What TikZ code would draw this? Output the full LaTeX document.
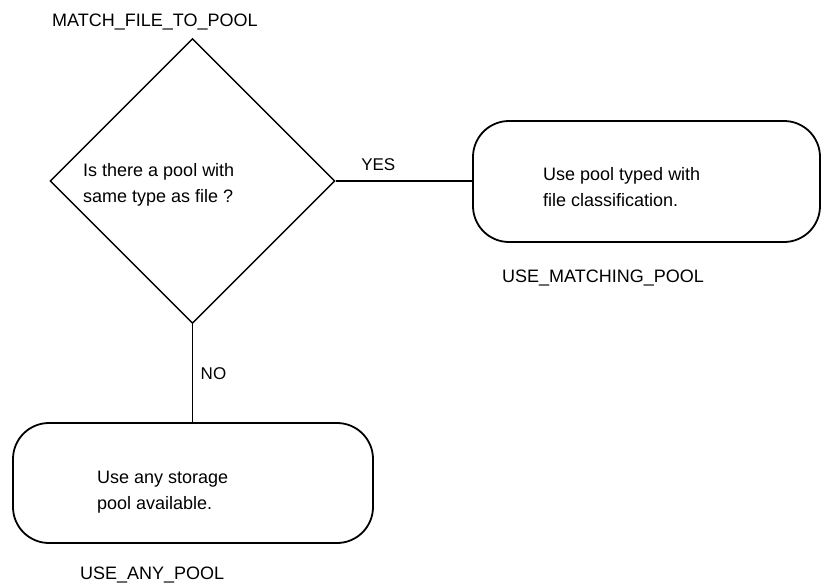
\documentclass[tikz,border=0pt]{standalone}
\usepackage{fontspec}
\setmainfont{Liberation Sans}
\usetikzlibrary{shapes.geometric}
\begin{document}
\begin{tikzpicture}[x=1pt,y=-1pt,
  every node/.style={font=\fontsize{18}{26}\selectfont},
  line/.style={line width=1.8pt},
  decision/.style={draw,line width=1.4pt,diamond,minimum width=285pt,minimum height=285pt,inner sep=0pt,aspect=1},
  action/.style={draw,line width=1.8pt,rounded corners=36pt,inner sep=0pt},
  label/.style={inner sep=0pt,anchor=west},
  body/.style={inner sep=0pt,anchor=west,align=left}]
  \useasboundingbox (0,0) rectangle (822,586);
  % decision diamond
  \node[decision] (dec) at (192.5,181) {};
  \node[body] (dectext) at (83,185) {Is there a pool with\\same type as file ?};
  \node[label] (dectitle) at (52,22) {MATCH\_FILE\_TO\_POOL};
  % outcome boxes
  \draw[action] (473,121) rectangle (820,242);
  \coordinate (matchin) at (473,181);
  \node[body] (matchtext) at (543,187) {Use pool typed with\\file classification.};
  \node[label] (matchtitle) at (502,278) {USE\_MATCHING\_POOL};
  \draw[action] (13,423) rectangle (373,543);
  \coordinate (anyin) at (192.5,423);
  \node[body] (anytext) at (97,492) {Use any storage\\pool available.};
  \node[label] (anytitle) at (80,575) {USE\_ANY\_POOL};
  % connectors
  \draw[line] (dec.east) -- (matchin) node[pos=0.31,above=6pt,font=\fontsize{17}{18}\selectfont] (yes) {YES};
  \draw[line] (dec.south) -- (anyin) node[midway,right=4pt,font=\fontsize{17}{18}\selectfont] (no) {NO};
\end{tikzpicture}
\end{document}
